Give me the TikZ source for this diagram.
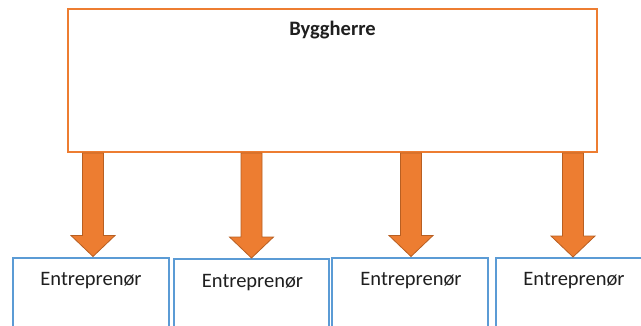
\documentclass[tikz,border=0pt]{standalone}
\usepackage{fontspec}
\setmainfont{Carlito}
\usetikzlibrary{calc}

\definecolor{accent}{HTML}{ED7D31}
\definecolor{accentdark}{HTML}{B85F22}
\definecolor{boxblue}{HTML}{5B9BD5}

\tikzset{
  ownerbox/.style={draw=accent, line width=2pt, fill=white, inner sep=0pt,
    minimum width=529pt, minimum height=143pt},
  contractorbox/.style={draw=boxblue, line width=2.2pt, fill=white, inner sep=0pt,
    minimum width=155pt, minimum height=110pt, anchor=north},
  boxtext/.style={anchor=base, font=\fontsize{20.5}{24}\selectfont, text=black!88},
  % block arrow drawn from the start point straight down to the target point
  fatarrow/.style={fill=accent, draw=accentdark, line width=0.8pt,
    to path={let \p1=(\tikztostart), \p2=(\tikztotarget) in
      (\x1-10.5pt,\y1) -- (\x1+10.5pt,\y1) -- (\x1+10.5pt,\y2+21pt)
      -- (\x1+22pt,\y2+21pt) -- (\x1,\y2) -- (\x1-22pt,\y2+21pt)
      -- (\x1-10.5pt,\y2+21pt) -- cycle}}
}

\begin{document}
\begin{tikzpicture}[x=1pt, y=-1pt]
  \path[use as bounding box, clip] (0,0) rectangle (641,325);

  % client
  \node[ownerbox] (owner) at (332.5,80.5) {};
  \node[boxtext, font=\bfseries\fontsize{20.5}{24}\selectfont] (ownerlabel)
    at ($(owner.north)+(0,27)$) {Byggherre};

  % contractors
  \node[contractorbox, minimum width=156pt] (c1) at (91,256.5) {};
  \node[contractorbox, minimum width=155pt] (c2) at (251.5,258) {};
  \node[contractorbox, minimum width=156pt] (c3) at (410,256.5) {};
  \node[contractorbox, minimum width=160pt] (c4) at (576,257) {};

  \node[boxtext] (t1) at ($(c1.north)+(0,28.5)$) {Entreprenør};
  \node[boxtext] (t2) at ($(c2.north)+(1,29)$) {Entreprenør};
  \node[boxtext] (t3) at ($(c3.north)+(1,28.5)$) {Entreprenør};
  \node[boxtext] (t4) at ($(c4.north)+(-2,28.5)$) {Entreprenør};

  % arrows from client to each contractor
  \coordinate (a1) at ($(owner.south -| c1.north)+(2,0)$);
  \coordinate (a2) at (owner.south -| c2.north);
  \coordinate (a3) at ($(owner.south -| c3.north)+(1,0)$);
  \coordinate (a4) at ($(owner.south -| c4.north)+(-3,0)$);
  \draw[fatarrow] (a1) to (c1.north);
  \draw[fatarrow] (a2) to (c2.north);
  \draw[fatarrow] (a3) to (c3.north);
  \draw[fatarrow] (a4) to (c4.north);
\end{tikzpicture}
\end{document}
